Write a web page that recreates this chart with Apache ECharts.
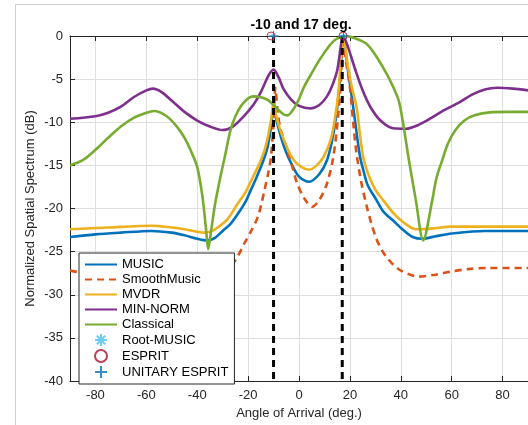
<!DOCTYPE html>
<html>
<head>
<meta charset="utf-8">
<script src="https://cdn.jsdelivr.net/npm/echarts@6/dist/echarts.min.js"></script>
<style>html,body{margin:0;padding:0;background:#fff}#c{width:528px;height:425px}</style>
</head>
<body>
<div id="c"></div>
<script>
// ---- data (angle in deg, normalized spectrum in dB) ----
const musicPts = [[-90,-23.3],[-80,-23.0],[-70,-22.8],[-58,-22.6],[-50,-22.8],[-45,-23.1],[-40,-23.5],[-36,-23.7],[-33,-23.4],[-30,-22.6],[-27,-21.8],[-24,-20.6],[-21,-19.2],[-19,-17.9],[-17,-16.6],[-15,-15.2],[-13.5,-14.0],[-12.3,-12.8],[-11,-10.6],[-10,-8.3],[-9,-9.6],[-7,-11.8],[-5,-13.5],[-3,-14.8],[0,-16.3],[4,-16.9],[8,-16.0],[11,-14.4],[13,-12.1],[14.5,-9.5],[16,-5.5],[17.5,0],[19,-3.5],[20.5,-6.5],[22,-9.8],[24,-14.0],[25.5,-15.8],[27,-17.3],[30.4,-19.0],[33,-20.3],[37,-21.4],[41,-22.5],[44.7,-23.3],[48.5,-23.5],[54,-23.2],[60,-22.9],[73,-22.6],[90,-22.6]];
const smoothMusicPts = [[-90,-27.2],[-80,-27.7],[-65,-28.0],[-50,-28.4],[-40,-28.6],[-32,-28.0],[-29,-27.5],[-26.6,-26.7],[-24,-25.5],[-21.4,-24.0],[-18.8,-22.6],[-16.2,-21.0],[-14.8,-19.5],[-13.6,-17.9],[-12.3,-16.2],[-11,-14.0],[-10,-10.0],[-9.3,-6.0],[-8.5,-8.5],[-7.5,-10.5],[-6,-12.0],[-4.5,-13.2],[-2.5,-15.3],[-0.7,-17.1],[2,-18.8],[5.2,-19.8],[8,-19.0],[11,-17.1],[13.5,-14.0],[15.3,-9.5],[16.5,-5.0],[17.3,0],[18.5,-3.0],[20,-5.9],[21.3,-10.0],[22.6,-13.6],[24.5,-17.0],[26.5,-19.6],[28.5,-21.8],[30.4,-23.5],[32.5,-24.8],[34.3,-25.6],[37,-26.5],[39.5,-27.1],[43,-27.6],[47,-27.9],[53,-27.7],[60,-27.3],[67,-27.0],[74,-26.9],[90,-26.9]];
const mvdrPts = [[-90,-22.4],[-75,-22.2],[-58,-22.0],[-50,-22.2],[-45,-22.4],[-40,-22.7],[-37,-22.8],[-34,-22.6],[-31.5,-22.1],[-28,-21.2],[-24,-19.4],[-21,-18.1],[-19,-16.9],[-17,-15.7],[-15,-14.4],[-13.5,-13.2],[-12.3,-11.8],[-11,-9.8],[-10,-7.8],[-9,-9.2],[-7.5,-10.8],[-6,-12.0],[-4,-13.4],[-2,-14.4],[1,-15.2],[4,-15.5],[7,-15.0],[9.7,-14.0],[12.4,-12.1],[14,-9.8],[15.5,-6.5],[17.5,0],[19.2,-3.5],[20.8,-6.0],[22.6,-8.2],[24,-11.5],[25.2,-14.0],[26.5,-15.4],[28,-16.6],[30.4,-18.0],[33,-19.0],[37,-20.5],[41,-21.6],[46,-22.4],[53,-22.3],[60,-22.1],[90,-22.1]];
const minNormPts = [[-90,-9.6],[-80,-9.3],[-75,-8.9],[-70,-8.2],[-65,-7.1],[-60,-6.3],[-57.4,-6.1],[-54,-6.5],[-50,-7.5],[-45,-8.8],[-40,-9.8],[-35,-10.5],[-30,-10.9],[-26,-10.5],[-22,-9.4],[-18,-8.0],[-15,-6.5],[-12,-4.6],[-10,-3.9],[-8,-4.8],[-6,-6.2],[-3,-7.4],[0,-8.1],[4.5,-8.4],[8,-8.0],[11,-7.0],[13,-5.8],[15,-4.0],[17.5,0],[19.5,-1.5],[22,-3.8],[25,-6.3],[28,-8.2],[32,-9.8],[37,-10.7],[42,-10.75],[47,-10.3],[52,-9.5],[57,-8.6],[63,-7.7],[68,-6.8],[73,-6.2],[78,-6.0],[84,-6.1],[90,-6.3]];
const classicalPts = [[-90,-15.0],[-85,-14.4],[-80,-13.2],[-75,-11.8],[-70,-10.5],[-65,-9.5],[-60,-8.9],[-57,-8.7],[-52,-9.3],[-48,-10.5],[-45,-11.8],[-42.5,-13.3],[-40,-15.2],[-38,-18.5],[-36.5,-22.5],[-35.7,-24.7],[-34.5,-22.5],[-33,-19.5],[-31,-16.5],[-29,-13.8],[-27,-11.0],[-25,-9.3],[-22,-7.8],[-18,-7.0],[-15,-7.1],[-12.3,-7.4],[-9,-8.3],[-6,-9.1],[-4.5,-9.2],[-2,-8.4],[0,-7.3],[2,-5.9],[5,-4.3],[8,-2.8],[11,-1.5],[14,-0.5],[18,0],[22,-0.25],[26.5,-0.9],[30,-2.2],[34.3,-4.3],[37,-5.9],[39.3,-7.6],[41,-10.3],[43.2,-14.4],[45.9,-19.0],[48.8,-23.7],[52.4,-19.0],[54,-16.5],[56.3,-14.4],[58.5,-12.5],[61.5,-10.9],[65,-9.8],[69,-9.2],[75,-8.85],[82,-8.8],[90,-8.8]];
const rootMusicPts = [[-10,0],[17.5,0]];
const espritPts = [[-11,0],[17.3,0]];
const unitaryEspritPts = [[-10,0],[17.5,0]];
const trueAngles = [-10, 17];
const yRange = [0, -40];

const FONT = 'Liberation Sans';
const dark = '#262626';
const chart = echarts.init(document.getElementById('c'), null, {renderer:'canvas'});

function lineSeries(name, pts, color, dashed) {
  return {
    name, type:'line', data: pts, symbol:'none', smooth:0.3,
    lineStyle:{color, width:2.6, type: dashed ? [7,5] : 'solid'},
    itemStyle:{color}, z:3, silent:true
  };
}
const series = [
  lineSeries('MUSIC', musicPts, '#0072BD'),
  lineSeries('SmoothMusic', smoothMusicPts, '#D95319', true),
  lineSeries('MVDR', mvdrPts, '#EDB120'),
  lineSeries('MIN-NORM', minNormPts, '#7E2F8E'),
  lineSeries('Classical', classicalPts, '#77AC30'),
];
trueAngles.forEach(a => series.push({
  name:'true'+a, type:'line', data:[[a,yRange[0]],[a,yRange[1]]], symbol:'none',
  lineStyle:{color:'#000', width:3, type:[7,5]}, z:4, silent:true
}));
series.push({
  name:'Root-MUSIC', type:'scatter', data: rootMusicPts, symbolSize:9,
  symbol:'path://M5,0L5,10M0,5L10,5M1.5,1.5L8.5,8.5M1.5,8.5L8.5,1.5',
  itemStyle:{color:'#4DBEEE', borderColor:'#4DBEEE', borderWidth:1}, z:5
});
series.push({
  name:'ESPRIT', type:'scatter', data: espritPts, symbolSize:8, symbol:'circle',
  itemStyle:{color:'rgba(0,0,0,0)', borderColor:'#A2142F', borderWidth:1}, z:5
});
series.push({
  name:'UNITARY ESPRIT', type:'scatter', data: unitaryEspritPts, symbolSize:10,
  symbol:'path://M5,0L5,10M0,5L10,5',
  itemStyle:{color:'#0072BD', borderColor:'#0072BD', borderWidth:1.2}, z:6
});

const hideSym = {opacity:0, color:'rgba(0,0,0,0)', borderWidth:0};
const option = {
  animation:false,
  backgroundColor:'#fff',
  textStyle:{fontFamily:FONT},
  grid:{left:70, top:36, right:-6, bottom:44},
  graphic:[
    {type:'rect', shape:{x:15.5, y:4.5, width:700, height:700}, style:{fill:'none', stroke:'#cfcfcf', lineWidth:1}, z:-10, silent:true},
    {type:'text', x:301, y:25, style:{text:'-10 and 17 deg.', font:'bold 14px ' + FONT, fill:'#000', align:'center', verticalAlign:'middle'}, z:10}
  ],
  xAxis:[{
    type:'value', min:-90, max:90, splitNumber:9,
    name:'Angle of Arrival (deg.)', nameLocation:'middle', nameGap:24,
    nameTextStyle:{fontSize:13, color:dark, fontFamily:FONT},
    axisLine:{show:true, onZero:false, lineStyle:{color:dark, width:1}},
    axisTick:{show:true, inside:true, length:5, lineStyle:{color:dark}},
    axisLabel:{fontSize:13, color:dark, margin:8, showMinLabel:false, showMaxLabel:false, fontFamily:FONT},
    splitLine:{show:true, lineStyle:{color:'#dfdfdf', width:1}}
  },{
    type:'value', position:'top', min:-90, max:90, splitNumber:9,
    axisLine:{show:true, onZero:false, lineStyle:{color:dark, width:1}},
    axisTick:{show:true, inside:true, length:5, lineStyle:{color:dark}},
    axisLabel:{show:false}, splitLine:{show:false}
  }],
  yAxis:{
    type:'value', min:-40, max:0, interval:5,
    name:'Normalized Spatial Spectrum (dB)', nameLocation:'middle', nameGap:33, nameMoveOverlap:false,
    nameTextStyle:{fontSize:13, color:dark, fontFamily:FONT},
    axisLine:{show:true, onZero:false, lineStyle:{color:dark, width:1}},
    axisTick:{show:true, inside:true, length:5, lineStyle:{color:dark}},
    axisLabel:{fontSize:13, color:dark, margin:7, fontFamily:FONT},
    splitLine:{show:true, lineStyle:{color:'#dfdfdf', width:1}}
  },
  legend:{
    orient:'vertical', left:79, top:253, padding:[5,6,5,5], itemGap:2,
    itemWidth:32, itemHeight:12, backgroundColor:'#fff', borderColor:dark, borderWidth:1,
    textStyle:{fontSize:13, color:'#000', fontFamily:FONT}, selectedMode:false,
    data:[
      {name:'MUSIC', itemStyle:hideSym},
      {name:'SmoothMusic', itemStyle:hideSym},
      {name:'MVDR', itemStyle:hideSym},
      {name:'MIN-NORM', itemStyle:hideSym},
      {name:'Classical', itemStyle:hideSym},
      'Root-MUSIC','ESPRIT','UNITARY ESPRIT'
    ]
  },
  series
};
chart.setOption(option);
</script>
</body>
</html>
